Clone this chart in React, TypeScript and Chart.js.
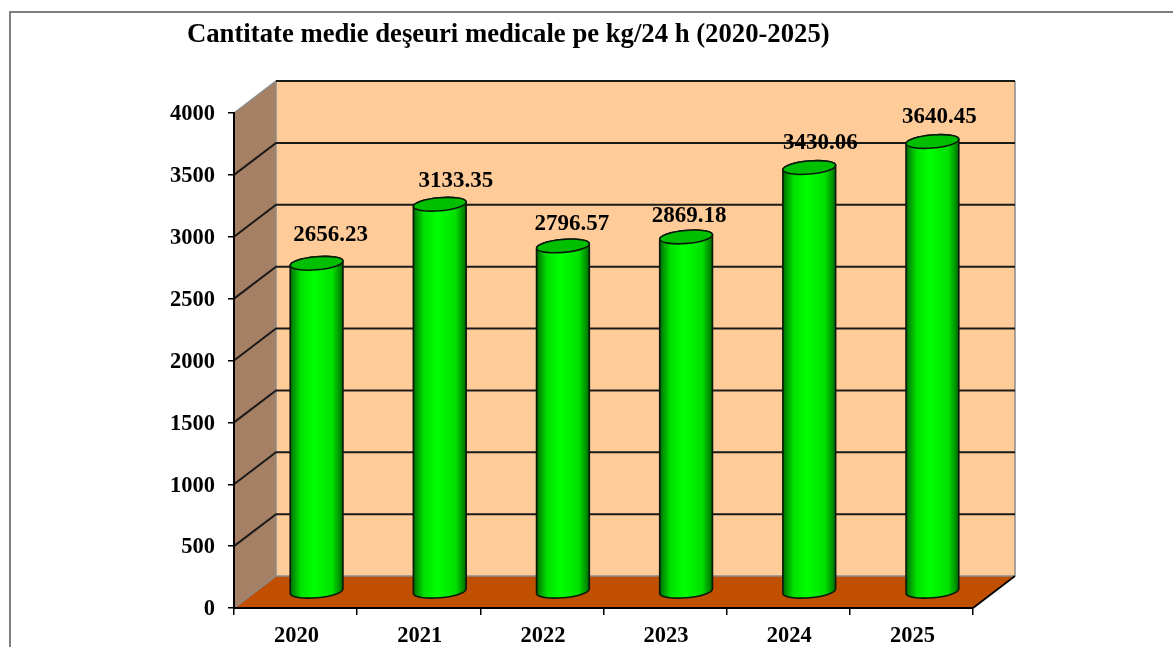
import React, { useEffect, useRef } from "react";
import { Chart, registerables } from "chart.js";

Chart.register(...registerables);

const TITLE = "Cantitate medie deşeuri medicale pe kg/24 h (2020-2025)";
const years = ["2020", "2021", "2022", "2023", "2024", "2025"];
const wasteKg = [2656.23, 3133.35, 2796.57, 2869.18, 3430.06, 3640.45];
const valueLabels = ["2656.23", "3133.35", "2796.57", "2869.18", "3430.06", "3640.45"];

// Placement of the value labels, relative to each cylinder's top.
const labelNudgeX = [14, 16, 9, 3, 11, 7];
const labelNudgeY = [-28, -23.5, -22, -21, -24.7, -24.6];

const SERIF = '"Liberation Serif", serif';
const DEPTH_X = 42;
const DEPTH_Y = -32;
const TILT = (-5 * Math.PI) / 180;
const CAP_RY = 6.5;

function sideGradient(ctx: CanvasRenderingContext2D, left: number, right: number) {
  const g = ctx.createLinearGradient(left, 0, right, 0);
  g.addColorStop(0, "#006000");
  g.addColorStop(0.06, "#009000");
  g.addColorStop(0.2, "#00E000");
  g.addColorStop(0.45, "#00FF00");
  g.addColorStop(0.8, "#00E000");
  g.addColorStop(0.94, "#009000");
  g.addColorStop(1, "#006000");
  return g;
}

function silhouette(ctx: CanvasRenderingContext2D, x: number, top: number, base: number, half: number) {
  // Upper half of the top ellipse, then lower half of the bottom ellipse.
  ctx.moveTo(x - half * Math.cos(TILT), top - half * Math.sin(TILT));
  ctx.ellipse(x, top, half, CAP_RY, TILT, Math.PI, 2 * Math.PI);
  ctx.lineTo(x + half * Math.cos(TILT), base + half * Math.sin(TILT));
  ctx.ellipse(x, base, half, CAP_RY, TILT, 0, Math.PI);
  ctx.closePath();
}

const framePlugin = {
  id: "frame3d",
  afterLayout(chart: any) {
    // The title starts left of the plot, at a fixed place in the frame.
    if (chart.titleBlock) chart.titleBlock.left = 187;
  },
  beforeDraw(chart: any) {
    const { ctx, chartArea: a, scales } = chart;
    ctx.save();
    // page frame
    ctx.strokeStyle = "#7f7f7f";
    ctx.lineWidth = 2;
    ctx.beginPath();
    ctx.moveTo(10, 650);
    ctx.lineTo(10, 12);
    ctx.lineTo(1180, 12);
    ctx.stroke();

    const bx = a.left + DEPTH_X;
    const rx = a.right + DEPTH_X;
    const ty = a.top + DEPTH_Y;
    const by = a.bottom + DEPTH_Y;

    // back wall
    ctx.fillStyle = "#FFCC99";
    ctx.fillRect(bx, ty, rx - bx, by - ty);
    // side wall
    ctx.fillStyle = "#A68064";
    ctx.beginPath();
    ctx.moveTo(a.left, a.top);
    ctx.lineTo(bx, ty);
    ctx.lineTo(bx, by);
    ctx.lineTo(a.left, a.bottom);
    ctx.closePath();
    ctx.fill();
    // floor
    ctx.fillStyle = "#C04F00";
    ctx.beginPath();
    ctx.moveTo(a.left, a.bottom);
    ctx.lineTo(bx, by);
    ctx.lineTo(rx, by);
    ctx.lineTo(a.right, a.bottom);
    ctx.closePath();
    ctx.fill();

    // wall edges
    ctx.strokeStyle = "#8c8c8c";
    ctx.lineWidth = 1.5;
    ctx.beginPath();
    ctx.moveTo(a.left, a.top);
    ctx.lineTo(bx, ty);
    ctx.lineTo(bx, by);
    ctx.lineTo(a.left, a.bottom);
    ctx.moveTo(bx, by);
    ctx.lineTo(rx, by);
    ctx.moveTo(rx, ty);
    ctx.lineTo(rx, by);
    ctx.stroke();

    // grid lines on both walls, from the value scale
    const yScale = scales.y;
    ctx.strokeStyle = "#1a1a1a";
    ctx.lineWidth = 2;
    yScale.ticks.forEach((t: any) => {
      if (t.value === 0) return;
      const py = yScale.getPixelForValue(t.value);
      ctx.beginPath();
      if (t.value !== yScale.max) {
        ctx.moveTo(a.left, py);
        ctx.lineTo(bx, py + DEPTH_Y);
      } else {
        ctx.moveTo(bx, py + DEPTH_Y);
      }
      ctx.lineTo(rx, py + DEPTH_Y);
      ctx.stroke();
    });

    // floor right edge
    ctx.strokeStyle = "#000";
    ctx.lineWidth = 1.8;
    ctx.beginPath();
    ctx.moveTo(a.right, a.bottom);
    ctx.lineTo(rx, by);
    ctx.stroke();
    ctx.restore();
  },
  beforeDatasetsDraw(chart: any) {
    const { ctx } = chart;
    const bars = chart.getDatasetMeta(0).data;
    ctx.save();
    ctx.translate(DEPTH_X / 2, DEPTH_Y / 2);
    bars.forEach((bar: any) => {
      const half = bar.width / 2;
      ctx.beginPath();
      silhouette(ctx, bar.x, bar.y, bar.base, half);
      ctx.fillStyle = sideGradient(ctx, bar.x - half, bar.x + half);
      ctx.fill();
    });
    ctx.beginPath();
    bars.forEach((bar: any) => silhouette(ctx, bar.x, bar.y, bar.base, bar.width / 2));
    ctx.clip();
  },
  afterDatasetsDraw(chart: any) {
    const { ctx } = chart;
    const bars = chart.getDatasetMeta(0).data;
    ctx.restore();
    ctx.save();
    ctx.translate(DEPTH_X / 2, DEPTH_Y / 2);
    bars.forEach((bar: any) => {
      const half = bar.width / 2;
      ctx.strokeStyle = "#0a1a0a";
      ctx.lineWidth = 1.6;
      ctx.beginPath();
      silhouette(ctx, bar.x, bar.y, bar.base, half);
      ctx.stroke();
      ctx.fillStyle = "#00BF00";
      ctx.beginPath();
      ctx.ellipse(bar.x, bar.y, half, CAP_RY, TILT, 0, 2 * Math.PI);
      ctx.fill();
      ctx.stroke();
    });
    ctx.restore();

    ctx.save();
    ctx.fillStyle = "#000";
    ctx.font = `bold 23px ${SERIF}`;
    ctx.textAlign = "center";
    ctx.textBaseline = "middle";
    bars.forEach((bar: any, i: number) => {
      ctx.fillText(
        valueLabels[i],
        bar.x + DEPTH_X / 2 + labelNudgeX[i],
        bar.y + DEPTH_Y / 2 + labelNudgeY[i]
      );
    });
    ctx.restore();
  },
};

export default function App() {
  const ref = useRef<HTMLCanvasElement | null>(null);
  useEffect(() => {
    const canvas = ref.current;
    if (!canvas) return;
    const chart = new Chart(canvas, {
      type: "bar",
      data: {
        labels: years,
        datasets: [
          {
            data: wasteKg,
            clip: false,
            barPercentage: 1,
            categoryPercentage: 0.43,
            borderWidth: 0,
            backgroundColor: (c: any) => {
              const xs = c.chart.scales.x;
              if (!xs || !xs.width) return "#00FF00";
              const half = (xs.width / years.length) * 0.43 * 0.5;
              const cx = xs.getPixelForValue(c.dataIndex);
              return sideGradient(c.chart.ctx, cx - half, cx + half);
            },
          },
        ],
      } as any,
      options: {
        responsive: false,
        animation: false,
        layout: { padding: { left: 0, right: 200, top: 0, bottom: 0 } },
        plugins: {
          legend: { display: false },
          tooltip: { enabled: false },
          title: {
            display: true,
            text: TITLE,
            align: "start",
            color: "#000",
            font: { family: SERIF, size: 26.7, weight: "bold", lineHeight: 1.2 },
            padding: { top: 19, bottom: 61.96 },
          },
        },
        scales: {
          x: {
            afterFit: (s: any) => {
              s.height = 39;
            },
            border: { color: "#000", width: 2 },
            grid: { drawOnChartArea: false, drawTicks: true, tickLength: 7, color: "#000", lineWidth: 1.5 },
            ticks: {
              color: "#000",
              padding: 8,
              labelOffset: 1,
              maxRotation: 0,
              font: { family: SERIF, size: 22.5, weight: "bold" },
            },
          },
          y: {
            min: 0,
            max: 4000,
            afterFit: (s: any) => {
              s.width = 234;
            },
            border: { color: "#000", width: 2 },
            grid: { drawOnChartArea: false, drawTicks: true, tickLength: 6, color: "#000", lineWidth: 1.5 },
            ticks: {
              stepSize: 500,
              color: "#000",
              padding: 13,
              labelOffset: 1.5,
              callback: (v: any) => String(v),
              font: { family: SERIF, size: 22.5, weight: "bold" },
            },
          },
        },
      },
      plugins: [framePlugin],
    } as any);
    return () => chart.destroy();
  }, []);
  return (
    <canvas
      ref={ref}
      width={1173}
      height={647}
      style={{ position: "fixed", left: 0, top: 0, display: "block", width: 1173, height: 647 }}
    />
  );
}
